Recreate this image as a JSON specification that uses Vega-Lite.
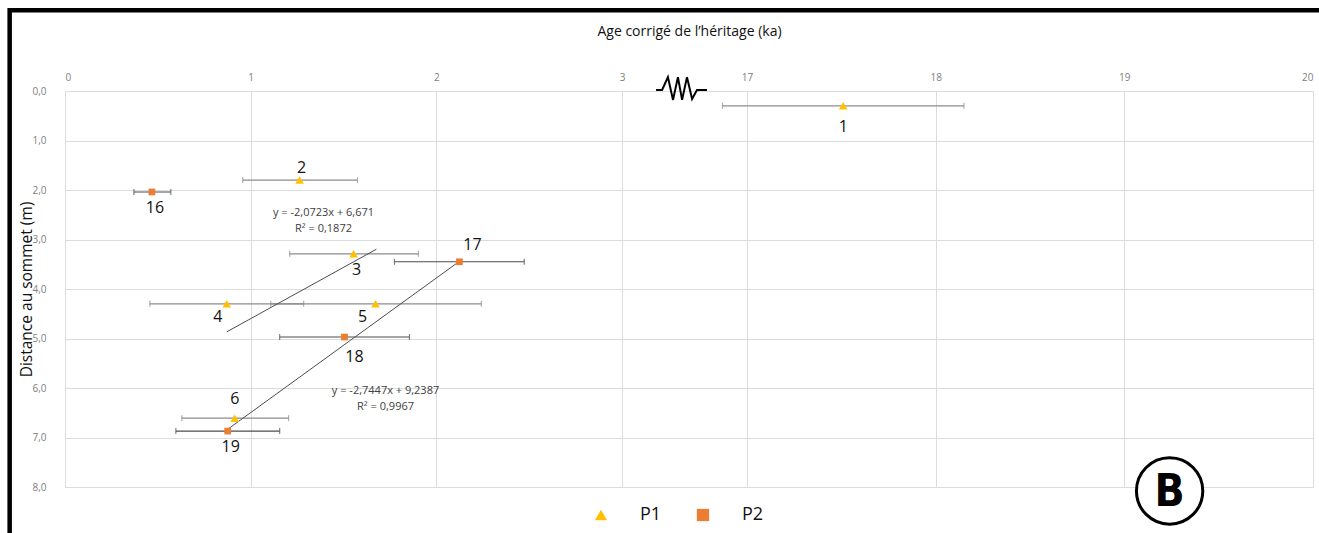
{
  "$schema": "https://vega.github.io/schema/vega-lite/v6.json",
  "width": 1248,
  "height": 396,
  "autosize": {"type": "none"},
  "padding": {"left": 65, "top": 91, "right": 6, "bottom": 46},
  "background": "white",
  "config": {
    "font": "Open Sans",
    "view": {"stroke": null},
    "legend": {
      "orient": "none",
      "legendX": 527,
      "legendY": 415,
      "direction": "horizontal",
      "labelFontSize": 18,
      "labelColor": "#111111",
      "symbolSize": 150,
      "labelOffset": 30,
      "columnPadding": 32,
      "symbolStrokeWidth": 0
    }
  },
  "datasets": {
    "pts": [
      {"id": "1", "series": "P1", "x": 17.51, "y": 0.30, "xlo": 16.87, "xhi": 18.15},
      {"id": "2", "series": "P1", "x": 1.263, "y": 1.80, "xlo": 0.957, "xhi": 1.575},
      {"id": "3", "series": "P1", "x": 1.554, "y": 3.29, "xlo": 1.21, "xhi": 1.903},
      {"id": "4", "series": "P1", "x": 0.871, "y": 4.30, "xlo": 0.457, "xhi": 1.285},
      {"id": "5", "series": "P1", "x": 1.672, "y": 4.30, "xlo": 1.108, "xhi": 2.242},
      {"id": "6", "series": "P1", "x": 0.914, "y": 6.61, "xlo": 0.629, "xhi": 1.204},
      {"id": "16", "series": "P2", "x": 0.468, "y": 2.04, "xlo": 0.371, "xhi": 0.570},
      {"id": "17", "series": "P2", "x": 2.124, "y": 3.45, "xlo": 1.774, "xhi": 2.473},
      {"id": "18", "series": "P2", "x": 1.505, "y": 4.97, "xlo": 1.156, "xhi": 1.855},
      {"id": "19", "series": "P2", "x": 0.876, "y": 6.87, "xlo": 0.597, "xhi": 1.156}
    ],
    "trend": [
      {"fit": "P1", "x": 0.871, "y": 4.866},
      {"fit": "P1", "x": 1.677, "y": 3.196},
      {"fit": "P2", "x": 0.876, "y": 6.834},
      {"fit": "P2", "x": 2.124, "y": 3.44}
    ],
    "eq": [
      {"x": 1.392, "y": 2.465, "label": "y = -2,0723x + 6,671"},
      {"x": 1.392, "y": 2.79, "label": "R² = 0,1872"},
      {"x": 1.726, "y": 6.06, "label": "y = -2,7447x + 9,2387"},
      {"x": 1.726, "y": 6.38, "label": "R² = 0,9967"}
    ],
    "zigzag": [
      {"x": 16.518, "y": -0.02},
      {"x": 16.550, "y": -0.02},
      {"x": 16.581, "y": -0.28},
      {"x": 16.608, "y": 0.18},
      {"x": 16.634, "y": -0.28},
      {"x": 16.656, "y": 0.18},
      {"x": 16.682, "y": -0.28},
      {"x": 16.709, "y": 0.16},
      {"x": 16.735, "y": -0.02},
      {"x": 16.788, "y": -0.02}
    ],
    "border": [
      {"x": -0.298, "x2": 20.2, "y": -1.63, "y2": 9.7}
    ],
    "badge": [
      {"x": 19.24, "y": 8.08, "label": "B"}
    ]
  },
  "layer": [
    {
      "data": {"name": "border"},
      "mark": {"type": "rect", "fill": "white", "fillOpacity": 0, "stroke": "#000000", "strokeWidth": 4.5, "clip": false},
      "encoding": {
        "x": {"field": "x", "type": "quantitative"},
        "x2": {"field": "x2"},
        "y": {"field": "y", "type": "quantitative"},
        "y2": {"field": "y2"}
      }
    },
    {
      "data": {"name": "pts"},
      "mark": {"type": "rule", "strokeWidth": 1.2},
      "encoding": {
        "x": {
          "field": "xlo", "type": "quantitative",
          "scale": {"type": "linear", "domain": [0, 3.1, 16.5, 20], "range": [0, 575.7, 587.65, 1248], "nice": false, "zero": false},
          "axis": {
            "orient": "top",
            "values": [0, 1, 2, 3, 17, 18, 19, 20],
            "format": "d",
            "grid": true, "gridColor": "#dcdcdc", "gridWidth": 1,
            "domain": false, "ticks": false,
            "labelColor": "#808080", "labelFontSize": 10, "labelPadding": 9,
            "title": "Age corrigé de l’héritage (ka)",
            "titleFontSize": 14, "titleFontWeight": "normal", "titleColor": "#111111",
            "titlePadding": 34
          }
        },
        "x2": {"field": "xhi"},
        "y": {
          "field": "y", "type": "quantitative",
          "scale": {"domain": [0, 8], "reverse": true, "nice": false, "zero": false},
          "axis": {
            "values": [0, 1, 2, 3, 4, 5, 6, 7, 8],
            "grid": true, "gridColor": "#dcdcdc", "gridWidth": 1,
            "domain": false, "ticks": false,
            "labelExpr": "replace(format(datum.value, '.1f'), '.', ',')",
            "labelColor": "#808080", "labelFontSize": 10, "labelPadding": 19,
            "title": "Distance au sommet (m)",
            "titleFontSize": 15.5, "titleFontWeight": "normal", "titleColor": "#111111",
            "titlePadding": -3
          }
        },
        "color": {"condition": {"test": "datum.series === 'P1'", "value": "#8c8c8c"}, "value": "#4d4d4d"}
      }
    },
    {
      "data": {"name": "pts"},
      "mark": {"type": "tick", "orient": "vertical", "size": 6, "thickness": 1.2},
      "encoding": {
        "x": {"field": "xlo", "type": "quantitative"},
        "y": {"field": "y", "type": "quantitative"},
        "color": {"condition": {"test": "datum.series === 'P1'", "value": "#8c8c8c"}, "value": "#4d4d4d"}
      }
    },
    {
      "data": {"name": "pts"},
      "mark": {"type": "tick", "orient": "vertical", "size": 6, "thickness": 1.2},
      "encoding": {
        "x": {"field": "xhi", "type": "quantitative"},
        "y": {"field": "y", "type": "quantitative"},
        "color": {"condition": {"test": "datum.series === 'P1'", "value": "#8c8c8c"}, "value": "#4d4d4d"}
      }
    },
    {
      "data": {"name": "trend"},
      "mark": {"type": "line", "color": "#4d4d4d", "strokeWidth": 1},
      "encoding": {
        "x": {"field": "x", "type": "quantitative"},
        "y": {"field": "y", "type": "quantitative"},
        "detail": {"field": "fit", "type": "nominal"}
      }
    },
    {
      "data": {"name": "pts"},
      "transform": [{"filter": "datum.series === 'P1'"}],
      "mark": {"type": "point", "filled": true, "size": 75, "opacity": 1},
      "encoding": {
        "x": {"field": "x", "type": "quantitative"},
        "y": {"field": "y", "type": "quantitative"},
        "color": {"field": "series", "type": "nominal", "scale": {"domain": ["P1", "P2"], "range": ["#FFC000", "#ED7D31"]}, "title": null},
        "shape": {"field": "series", "type": "nominal", "scale": {"domain": ["P1", "P2"], "range": ["triangle-up", "square"]}, "title": null}
      }
    },
    {
      "data": {"name": "pts"},
      "transform": [{"filter": "datum.series === 'P2'"}],
      "mark": {"type": "point", "filled": true, "size": 45, "opacity": 1},
      "encoding": {
        "x": {"field": "x", "type": "quantitative"},
        "y": {"field": "y", "type": "quantitative"},
        "color": {"field": "series", "type": "nominal", "title": null},
        "shape": {"field": "series", "type": "nominal", "title": null}
      }
    },
    {
      "data": {"name": "pts"},
      "transform": [{"filter": "datum.id === '1'"}],
      "mark": {"type": "text", "fontSize": 16, "color": "#111111", "dy": 21},
      "encoding": {"x": {"field": "x", "type": "quantitative"}, "y": {"field": "y", "type": "quantitative"}, "text": {"field": "id"}}
    },
    {
      "data": {"name": "pts"},
      "transform": [{"filter": "indexof(['16','3','19'], datum.id) >= 0"}],
      "mark": {"type": "text", "fontSize": 16, "color": "#111111", "dy": 16, "dx": 3},
      "encoding": {"x": {"field": "x", "type": "quantitative"}, "y": {"field": "y", "type": "quantitative"}, "text": {"field": "id"}}
    },
    {
      "data": {"name": "pts"},
      "transform": [{"filter": "datum.id === '18'"}],
      "mark": {"type": "text", "fontSize": 16, "color": "#111111", "dy": 20, "dx": 10},
      "encoding": {"x": {"field": "x", "type": "quantitative"}, "y": {"field": "y", "type": "quantitative"}, "text": {"field": "id"}}
    },
    {
      "data": {"name": "pts"},
      "transform": [{"filter": "datum.id === '2'"}],
      "mark": {"type": "text", "fontSize": 16, "color": "#111111", "dy": -12, "dx": 2},
      "encoding": {"x": {"field": "x", "type": "quantitative"}, "y": {"field": "y", "type": "quantitative"}, "text": {"field": "id"}}
    },
    {
      "data": {"name": "pts"},
      "transform": [{"filter": "datum.id === '6'"}],
      "mark": {"type": "text", "fontSize": 16, "color": "#111111", "dy": -19},
      "encoding": {"x": {"field": "x", "type": "quantitative"}, "y": {"field": "y", "type": "quantitative"}, "text": {"field": "id"}}
    },
    {
      "data": {"name": "pts"},
      "transform": [{"filter": "datum.id === '4'"}],
      "mark": {"type": "text", "fontSize": 16, "color": "#111111", "dy": 13, "dx": -9},
      "encoding": {"x": {"field": "x", "type": "quantitative"}, "y": {"field": "y", "type": "quantitative"}, "text": {"field": "id"}}
    },
    {
      "data": {"name": "pts"},
      "transform": [{"filter": "datum.id === '5'"}],
      "mark": {"type": "text", "fontSize": 16, "color": "#111111", "dy": 13, "dx": -13},
      "encoding": {"x": {"field": "x", "type": "quantitative"}, "y": {"field": "y", "type": "quantitative"}, "text": {"field": "id"}}
    },
    {
      "data": {"name": "pts"},
      "transform": [{"filter": "datum.id === '17'"}],
      "mark": {"type": "text", "fontSize": 16, "color": "#111111", "dy": -17, "dx": 13},
      "encoding": {"x": {"field": "x", "type": "quantitative"}, "y": {"field": "y", "type": "quantitative"}, "text": {"field": "id"}}
    },
    {
      "data": {"name": "eq"},
      "mark": {"type": "text", "fontSize": 11, "color": "#404040"},
      "encoding": {"x": {"field": "x", "type": "quantitative"}, "y": {"field": "y", "type": "quantitative"}, "text": {"field": "label"}}
    },
    {
      "data": {"name": "zigzag"},
      "mark": {"type": "line", "color": "#000000", "strokeWidth": 2, "clip": false},
      "encoding": {"x": {"field": "x", "type": "quantitative"}, "y": {"field": "y", "type": "quantitative"}}
    },
    {
      "data": {"name": "badge"},
      "mark": {"type": "point", "shape": "circle", "size": 4400, "filled": false, "fill": "white", "fillOpacity": 1, "stroke": "#000000", "strokeWidth": 3, "opacity": 1, "clip": false},
      "encoding": {"x": {"field": "x", "type": "quantitative"}, "y": {"field": "y", "type": "quantitative"}}
    },
    {
      "data": {"name": "badge"},
      "mark": {"type": "text", "fontSize": 44, "fontWeight": "bold", "font": "Liberation Sans Narrow, DejaVu Sans Condensed, Liberation Sans", "color": "#000000", "baseline": "middle", "dy": 2, "clip": false},
      "encoding": {"x": {"field": "x", "type": "quantitative"}, "y": {"field": "y", "type": "quantitative"}, "text": {"field": "label"}}
    }
  ]
}
